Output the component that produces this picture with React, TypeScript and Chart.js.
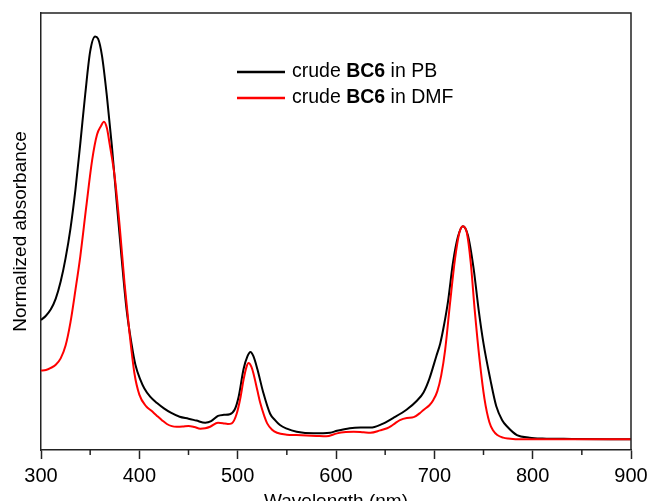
import React, { useEffect, useRef } from 'react';
import { Chart, registerables } from 'chart.js';

Chart.register(...registerables);

// Crude BC6 in PB (black)
const pbWavelength = [
  300, 305, 310, 315, 320, 325, 330, 335, 340, 345, 350, 355, 358, 362, 367, 372, 377, 382, 387, 392,
  396, 401, 405, 411, 418, 425, 432, 441, 450, 458, 467, 473, 480, 486, 492, 497, 501, 506, 510, 513,
  516, 520, 526, 533, 538, 543, 550, 560, 577, 594, 601, 614, 625, 635, 646, 658, 672, 682, 689, 695,
  702, 706, 710, 714, 719, 724, 729, 734, 740, 745, 750, 757, 763, 769, 774, 784, 797, 810, 840, 900,
];
const pbAbsorbance = [
  0.56, 0.58, 0.61, 0.66, 0.74, 0.85, 0.99, 1.17, 1.39, 1.62, 1.82, 1.89, 1.88, 1.8, 1.61, 1.38, 1.11, 0.85, 0.61, 0.45,
  0.35, 0.28, 0.24, 0.2, 0.17, 0.145, 0.125, 0.106, 0.097, 0.088, 0.078, 0.085, 0.11, 0.115, 0.118, 0.14, 0.2, 0.33, 0.39, 0.41,
  0.39, 0.33, 0.22, 0.12, 0.09, 0.067, 0.05, 0.036, 0.028, 0.031, 0.04, 0.052, 0.055, 0.055, 0.07, 0.1, 0.14, 0.18, 0.22, 0.285,
  0.39, 0.45, 0.54, 0.65, 0.83, 0.95, 1.0, 0.96, 0.8, 0.61, 0.45, 0.28, 0.155, 0.09, 0.06, 0.02, 0.008, 0.004, 0.002, 0.0,
];

// Crude BC6 in DMF (red)
const dmfWavelength = [
  300, 305, 310, 315, 320, 325, 330, 335, 340, 346, 352, 357, 361, 364, 367, 370, 375, 380, 385, 390,
  395, 400, 407, 412, 418, 423, 428, 433, 438, 444, 450, 456, 462, 467, 472, 480, 485, 490, 494, 499,
  503, 506, 509, 511, 514, 516, 520, 523, 527, 530, 535, 540, 550, 560, 580, 590, 601, 610, 618, 628,
  635, 645, 652, 656, 660, 665, 672, 679, 685, 689, 695, 699, 703, 707, 711, 716, 721, 725.5, 729, 733,
  737, 741, 746, 751, 756, 760, 764, 770, 775, 790, 900,
];
const dmfAbsorbance = [
  0.323, 0.325, 0.335, 0.35, 0.38, 0.44, 0.55, 0.7, 0.86, 1.09, 1.31, 1.43, 1.47, 1.49, 1.46, 1.38, 1.23, 1.0, 0.73, 0.5,
  0.31, 0.21, 0.155, 0.135, 0.11, 0.09, 0.072, 0.062, 0.059, 0.06, 0.063, 0.058, 0.05, 0.052, 0.059, 0.078, 0.076, 0.072, 0.075, 0.12,
  0.2, 0.28, 0.34, 0.358, 0.34, 0.31, 0.23, 0.17, 0.11, 0.075, 0.045, 0.031, 0.022, 0.02, 0.016, 0.014, 0.028, 0.034, 0.036, 0.033,
  0.031, 0.042, 0.052, 0.062, 0.075, 0.09, 0.1, 0.104, 0.122, 0.138, 0.16, 0.185, 0.225, 0.3, 0.42, 0.64, 0.845, 0.97, 1.0, 0.97,
  0.83, 0.61, 0.374, 0.19, 0.08, 0.04, 0.02, 0.008, 0.004, 0.0, 0.0,
];

const xMin = 300;
const xMax = 900;
const xStep = 100;
const minorTickValues = [350, 450, 550, 650, 750, 850];
const yMin = -0.05;
const yMax = 2.0;

const legendEntries = [
  { pre: 'crude ', bold: 'BC6', post: ' in PB', color: '#000000' },
  { pre: 'crude ', bold: 'BC6', post: ' in DMF', color: '#ff0000' },
];

const xTitle = 'Wavelength (nm)';
const yTitle = 'Normalized absorbance';

const FONT = "'Liberation Sans', Arial, sans-serif";
const AXIS_COLOR = '#222222';

const toPoints = (xs: number[], ys: number[]) => xs.map((x, i) => ({ x, y: ys[i] }));

const decorPlugin = {
  id: 'decor',
  afterDraw(chart: any) {
    const { ctx, chartArea: a, scales } = chart;
    const x = scales.x;
    ctx.save();
    ctx.strokeStyle = AXIS_COLOR;
    ctx.lineWidth = 1.5;
    ctx.beginPath();
    ctx.moveTo(a.left - 0.75, a.top);
    ctx.lineTo(a.right, a.top);
    ctx.lineTo(a.right, a.bottom);
    ctx.stroke();
    ctx.beginPath();
    for (const v of minorTickValues) {
      const px = x.getPixelForValue(v);
      ctx.moveTo(px, a.bottom);
      ctx.lineTo(px, a.bottom + 5);
    }
    ctx.stroke();

    // legend
    const lineX0 = 237;
    const lineX1 = 285;
    const textX = 292;
    const rowY = [72, 98];
    ctx.textBaseline = 'middle';
    ctx.textAlign = 'left';
    legendEntries.forEach((e, i) => {
      const y = rowY[i];
      ctx.strokeStyle = e.color;
      ctx.lineWidth = 2.5;
      ctx.beginPath();
      ctx.moveTo(lineX0, y);
      ctx.lineTo(lineX1, y);
      ctx.stroke();
      ctx.fillStyle = '#000';
      let cx = textX;
      ctx.font = `19.5px ${FONT}`;
      ctx.fillText(e.pre, cx, y);
      cx += ctx.measureText(e.pre).width;
      ctx.font = `bold 19.5px ${FONT}`;
      ctx.fillText(e.bold, cx, y);
      cx += ctx.measureText(e.bold).width;
      ctx.font = `19.5px ${FONT}`;
      ctx.fillText(e.post, cx, y);
    });
    ctx.restore();
  },
};

export default function App() {
  const ref = useRef<HTMLCanvasElement | null>(null);

  useEffect(() => {
    if (!ref.current) return;
    const chart = new Chart(ref.current, {
      type: 'line',
      data: {
        datasets: [
          {
            label: 'crude BC6 in PB',
            data: toPoints(pbWavelength, pbAbsorbance),
            borderColor: '#000000',
            borderWidth: 2,
            pointRadius: 0,
            cubicInterpolationMode: 'monotone',
            fill: false,
            order: 1,
          },
          {
            label: 'crude BC6 in DMF',
            data: toPoints(dmfWavelength, dmfAbsorbance),
            borderColor: '#ff0000',
            borderWidth: 2,
            pointRadius: 0,
            cubicInterpolationMode: 'monotone',
            fill: false,
            order: 0,
          },
        ],
      },
      options: {
        animation: false,
        responsive: false,
        maintainAspectRatio: false,
        layout: { padding: { top: 13, right: 17, left: 0, bottom: 0 } },
        plugins: {
          legend: { display: false },
          tooltip: { enabled: false },
        },
        scales: {
          x: {
            type: 'linear',
            min: xMin,
            max: xMax,
            afterFit: (s: any) => {
              s.height = 80;
              s.paddingLeft = 0;
              s.paddingRight = 0;
            },
            ticks: {
              stepSize: xStep,
              color: '#000',
              font: { size: 20, family: FONT },
              padding: 5,
              maxRotation: 0,
            },
            grid: {
              display: true,
              drawOnChartArea: false,
              drawTicks: true,
              tickLength: 9,
              tickColor: AXIS_COLOR,
              tickWidth: 1.5,
            },
            border: { display: true, color: AXIS_COLOR, width: 1.5 },
            title: {
              display: true,
              text: xTitle,
              color: '#000',
              font: { size: 19, family: FONT },
              padding: { top: 0, bottom: 16.6 },
            },
          },
          y: {
            type: 'linear',
            min: yMin,
            max: yMax,
            afterFit: (s: any) => {
              s.width = 41;
              s.paddingTop = 0;
              s.paddingBottom = 0;
            },
            ticks: { display: false },
            grid: { display: true, drawOnChartArea: false, drawTicks: false },
            border: { display: true, color: AXIS_COLOR, width: 1.5 },
            title: {
              display: true,
              text: yTitle,
              color: '#000',
              font: { size: 19, family: FONT },
              padding: { top: 9, bottom: 0 },
            },
          },
        },
      },
      plugins: [decorPlugin],
    });
    return () => chart.destroy();
  }, []);

  return (
    <div style={{ position: 'fixed', left: 0, top: 0, width: 648, height: 530, background: '#fff' }}>
      <canvas ref={ref} width={648} height={530} style={{ width: 648, height: 530, display: 'block' }} />
    </div>
  );
}
